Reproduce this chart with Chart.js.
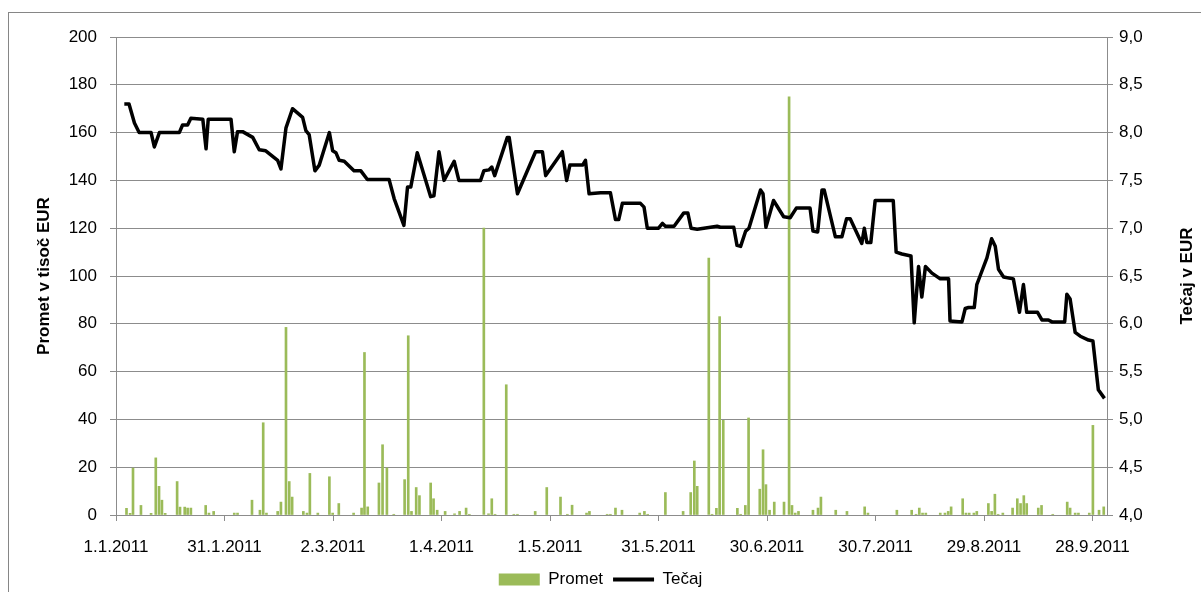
<!DOCTYPE html>
<html>
<head>
<meta charset="utf-8">
<script src="https://cdn.jsdelivr.net/npm/chart.js@4.4.1/dist/chart.umd.min.js"></script>
<style>
  html, body { margin: 0; padding: 0; background: #fff; }
</style>
</head>
<body>
<canvas id="myChart" width="1201" height="592"></canvas>
<script>
// x axis: days counted from 1.1.2011, a tick every 30 days
const tickLabels = ['1.1.2011', '31.1.2011', '2.3.2011', '1.4.2011', '1.5.2011',
    '31.5.2011', '30.6.2011', '30.7.2011', '29.8.2011', '28.9.2011'];

// Tečaj (right axis, EUR)
const rateDays = [2.3, 3.6, 5.1, 6.4, 9.7, 10.6, 12, 17.5, 18.4, 19.8, 20.7, 24, 24.9, 25.5, 31.8, 32.7, 33.6, 35,
    37.8, 39.6, 41.4, 44.7, 45.6, 47, 48.8, 51.6, 52.5, 53.4, 55, 56.2, 59, 59.9, 60.8, 61.7, 63.1, 65.8, 67.7,
    69.5, 75.5, 76.9, 79.6, 80.6, 81.5, 83.3, 87, 87.9, 89.3, 90.7, 93.5, 94.8, 100.8, 101.7, 103.1, 103.9,
    104.7, 108.2, 108.7, 111, 116, 117.9, 118.8, 123.4, 124.6, 125.5, 129, 129.8, 130.8, 134, 136.7, 138.1,
    139, 140, 145, 146, 146.9, 150, 151.1, 151.9, 154.3, 157, 158.1, 159, 160.7, 166.2, 167.1, 170.8, 171.7,
    172.7, 174.1, 175, 178.2, 178.9, 179.7, 181.8, 184.6, 186.4, 188.1, 191.9, 192.7, 194, 195.2, 195.8,
    198.9, 200.7, 202, 203, 206.2, 206.9, 207.6, 208.7, 209.9, 214.9, 215.7, 217.3, 219.8, 220.7, 221.9,
    222.8, 223.8, 225.6, 227.9, 230.2, 230.6, 233.9, 234.8, 235.7, 237.3, 238, 238.9, 240.8, 242.1, 243.1,
    244, 245.4, 248.1, 249.8, 250.9, 251.8, 254.8, 256, 257.8, 258.8, 262.3, 262.9, 263.8, 265.2, 266.6,
    268.9, 270.1, 271.6, 273.3];
const rateValues = [8.30, 8.30, 8.10, 8.00, 8.00, 7.85, 8.00, 8.00, 8.08, 8.08, 8.15, 8.14, 7.83, 8.14, 8.14,
    7.80, 8.01, 8.01, 7.95, 7.82, 7.81, 7.71, 7.62, 8.05, 8.25, 8.16, 8.02, 7.98, 7.60, 7.66, 8.00, 7.81, 7.79,
    7.71, 7.70, 7.60, 7.60, 7.51, 7.51, 7.31, 7.03, 7.43, 7.43, 7.79, 7.33, 7.34, 7.80, 7.50, 7.70, 7.50, 7.50,
    7.60, 7.61, 7.64, 7.55, 7.95, 7.95, 7.36, 7.80, 7.80, 7.55, 7.80, 7.50, 7.66, 7.66, 7.71, 7.36, 7.37, 7.37,
    7.09, 7.09, 7.26, 7.26, 7.22, 7.00, 7.00, 7.05, 7.02, 7.02, 7.16, 7.16, 7.00, 6.99, 7.02, 7.01, 7.01, 6.82,
    6.81, 6.97, 7.00, 7.40, 7.36, 7.01, 7.29, 7.12, 7.11, 7.21, 7.21, 6.97, 6.96, 7.40, 7.40, 6.91, 6.91, 7.10,
    7.10, 6.84, 7.00, 6.85, 6.85, 7.29, 7.29, 6.75, 6.73, 6.71, 6.01, 6.60, 6.28, 6.60, 6.53, 6.47, 6.47, 6.03,
    6.02, 6.16, 6.17, 6.17, 6.41, 6.50, 6.69, 6.89, 6.81, 6.57, 6.49, 6.47, 6.12, 6.41, 6.12, 6.12, 6.04, 6.04,
    6.02, 6.02, 6.31, 6.26, 5.91, 5.87, 5.83, 5.82, 5.31, 5.22];

// Promet (left axis, tisoč EUR)
const volDays = [2.9, 3.9, 4.7, 6.9, 9.7, 11, 11.9, 12.7, 13.6, 16.9, 17.7, 19, 19.8, 20.7, 24.8, 25.7, 27, 32.7,
    33.6, 37.6, 39.8, 40.7, 41.6, 44.7, 45.6, 47, 47.9, 48.7, 51.8, 52.8, 53.6, 55.8, 59, 59.9, 61.6, 65.7, 67.9,
    68.7, 69.6, 72.7, 73.7, 74.9, 76.8, 79.8, 80.8, 81.7, 83, 83.9, 87, 87.8, 88.8, 91, 93.6, 95, 96.8, 97.7,
    101.7, 103, 103.9, 104.8, 107.9, 110, 111, 115.9, 119.1, 122.9, 124.8, 126.1, 130.1, 130.9, 135.8, 136.7,
    138.1, 139.9, 144.8, 146.1, 147, 151.9, 156.8, 158.9, 159.9, 160.7, 163.9, 164.8, 166, 166.9, 167.9, 171.8,
    172.7, 174, 174.9, 178, 178.9, 179.7, 180.7, 182, 184.7, 186.1, 186.9, 187.8, 188.7, 192.7, 194.1, 194.9,
    199, 202.1, 207, 207.9, 215.9, 220, 221.2, 222.1, 223, 223.9, 227.9, 229.2, 230.1, 230.9, 234.1, 235, 235.9,
    237.2, 238, 241.2, 242.1, 243, 243.9, 245.2, 247.9, 249.2, 250.1, 251, 251.8, 255, 255.9, 259, 263, 263.8,
    265.2, 266.1, 269.1, 270.1, 271.8, 273.1];
const volValues = [2.8, 0.7, 19.6, 4, 0.7, 23.9, 12, 6.2, 0.7, 14, 3.3, 3.3, 2.9, 2.9, 4, 0.8, 1.5, 0.8, 0.8, 6.2,
    2, 38.6, 0.8, 1.5, 5.4, 78.5, 14, 7.5, 1.5, 0.8, 17.4, 0.8, 16, 0.8, 4.8, 0.8, 2.9, 68, 3.4, 13.4, 29.4, 19.7,
    0.3, 14.8, 75, 1.5, 11.5, 8.1, 13.4, 6.8, 2, 1.5, 0.5, 1.5, 2.9, 0.3, 120, 0.5, 6.8, 0.3, 54.5, 0.3, 0.3, 1.5,
    11.5, 7.5, 0.3, 4.1, 0.8, 1.5, 0.3, 0.3, 2.9, 2, 0.8, 1.5, 0.3, 9.4, 1.5, 9.4, 22.6, 12, 107.5, 0.3, 2.8, 83,
    39.6, 2.8, 0.3, 4, 40.6, 10.8, 27.3, 12.7, 2, 5.4, 5.4, 175, 4, 0.8, 1.5, 2, 2.9, 7.5, 2, 1.5, 3.4, 0.8, 2, 2,
    0.3, 2.9, 0.8, 0.8, 0.8, 0.8, 1.5, 3.4, 6.8, 0.8, 0.8, 0.8, 1.5, 4.8, 1.5, 8.7, 0.3, 0.8, 2.9, 6.8, 4.8, 8.1,
    4.8, 2.9, 4, 0.3, 5.4, 2.9, 0.8, 0.8, 0.8, 37.5, 2, 3.4];

const gridGray = '#8c8c8c';
const fontFamily = "'Liberation Sans Narrow', 'Liberation Sans', sans-serif";
Chart.defaults.font.family = fontFamily;
Chart.defaults.font.size = 17;
Chart.defaults.color = '#000';

// chart frame + the rotated right axis title
const framePlugin = {
    id: 'frame',
    beforeDraw(chart) {
        const ctx = chart.ctx;
        ctx.save();
        ctx.fillStyle = '#fff';
        ctx.fillRect(0, 0, chart.width, chart.height);
        ctx.strokeStyle = '#868686';
        ctx.lineWidth = 1;
        ctx.strokeRect(8.5, 12.5, 1400, 800);
        ctx.restore();
    },
    afterDraw(chart) {
        const ctx = chart.ctx;
        const area = chart.chartArea;
        ctx.save();
        ctx.translate(1187, (area.top + area.bottom) / 2);
        ctx.rotate(-Math.PI / 2);
        ctx.font = 'bold 17px ' + fontFamily;
        ctx.fillStyle = '#000';
        ctx.textAlign = 'center';
        ctx.textBaseline = 'middle';
        ctx.fillText('Tečaj v EUR', 0, 0);
        ctx.restore();
    }
};

const data = {
    datasets: [{
        type: 'bar',
        label: 'Promet',
        data: volDays.map((d, i) => ({x: d, y: volValues[i]})),
        backgroundColor: '#9bbb59',
        borderWidth: 0,
        barThickness: 2,
        yAxisID: 'y',
        order: 1
    }, {
        type: 'line',
        label: 'Tečaj',
        data: rateDays.map((d, i) => ({x: d, y: rateValues[i]})),
        borderColor: '#000',
        backgroundColor: '#000',
        borderWidth: 3.5,
        borderJoinStyle: 'round',
        pointRadius: 0,
        tension: 0,
        yAxisID: 'y1',
        order: 0
    }]
};

const config = {
    data: data,
    plugins: [framePlugin],
    options: {
        responsive: false,
        animation: false,
        layout: { padding: { top: 37, left: 0, right: 0, bottom: -6 } },
        plugins: {
            tooltip: { enabled: false },
            legend: {
                position: 'bottom',
                labels: {
                    usePointStyle: true,
                    pointStyleWidth: 41,
                    boxHeight: 12,
                    padding: 10,
                    color: '#000',
                    sort: (a, b) => a.datasetIndex - b.datasetIndex,
                    generateLabels: (chart) => {
                        const items = Chart.defaults.plugins.legend.labels.generateLabels(chart);
                        items.forEach((it) => {
                            if (it.datasetIndex === 0) {
                                it.pointStyle = 'rect';
                                it.fillStyle = '#9bbb59';
                                it.lineWidth = 0;
                            } else {
                                it.pointStyle = 'line';
                                it.strokeStyle = '#000';
                                it.lineWidth = 4;
                            }
                        });
                        return items;
                    }
                }
            }
        },
        scales: {
            x: {
                type: 'linear',
                min: 0,
                max: 274,
                offset: false,
                afterBuildTicks: (scale) => {
                    scale.ticks = tickLabels.map((t, i) => ({value: i * 30}));
                },
                afterFit: (scale) => { scale.height = 46; },
                ticks: {
                    autoSkip: false,
                    maxRotation: 0,
                    padding: 16,
                    callback: (v) => tickLabels[Math.round(v / 30)]
                },
                grid: { drawOnChartArea: false, offset: false, tickLength: 6, color: gridGray },
                border: { color: gridGray }
            },
            y: {
                position: 'left',
                min: 0,
                max: 200,
                afterFit: (scale) => { scale.width = 116; },
                ticks: { stepSize: 20, padding: 13 },
                grid: { color: gridGray, tickLength: 6 },
                border: { color: gridGray },
                title: {
                    display: true,
                    text: 'Promet v tisoč EUR',
                    font: { weight: 'bold', size: 17 },
                    padding: { top: 34, bottom: 0 }
                }
            },
            y1: {
                position: 'right',
                min: 4,
                max: 9,
                afterFit: (scale) => { scale.width = 94; },
                ticks: {
                    stepSize: 0.5,
                    padding: 6,
                    callback: (v) => v.toFixed(1).replace('.', ',')
                },
                grid: { drawOnChartArea: false, tickLength: 6, color: gridGray },
                border: { color: gridGray }
            }
        }
    }
};

const myChart = new Chart(document.getElementById('myChart'), config);
</script>
</body>
</html>
